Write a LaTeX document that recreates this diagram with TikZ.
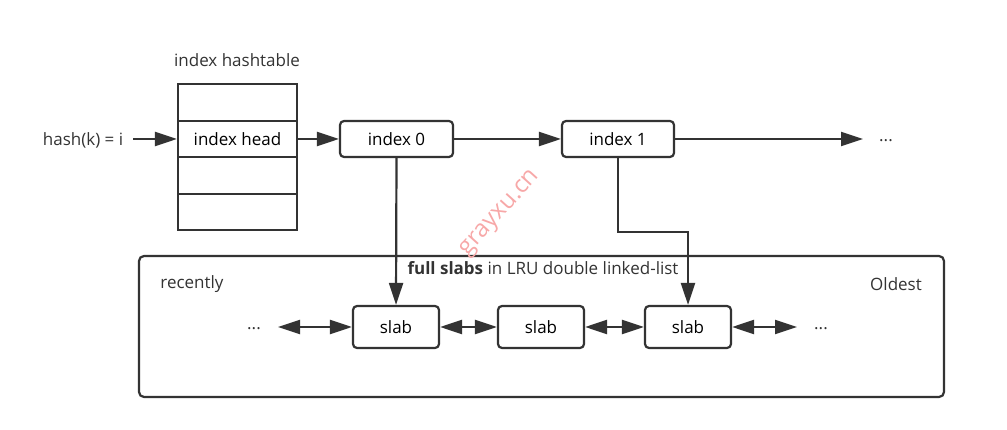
\documentclass[tikz,border=0pt]{standalone}
\usepackage{fontspec}
\setmainfont{Open Sans}
\usetikzlibrary{arrows.meta}
\definecolor{ink}{HTML}{333333}
\definecolor{wm}{HTML}{F7A8A8}
\tikzset{
  line/.style={draw=ink, line width=2.2pt},
  tip/.tip={Triangle[length=22pt,width=14pt]},
  arr/.style={line, -tip},
  darr/.style={line, tip-tip},
  cell/.style={draw=ink, line width=2.2pt, minimum width=119pt, minimum height=36.5pt, inner sep=0pt},
  rbox/.style={draw=ink, line width=2.2pt, rounded corners=4pt, inner sep=0pt},
  lbl/.style={text=ink, inner sep=0pt},
}
\begin{document}
\begin{tikzpicture}[x=1pt,y=-1pt,font=\fontsize{17}{20}\selectfont]
\useasboundingbox (0,0) rectangle (1007,430);
% hashtable
\node[lbl] (title) at (237,60) {index hashtable};
\node[cell] (r0) at (237.5,102.5) {};
\node[cell] (head) at (237.5,139) {index head};
\node[cell] (r2) at (237.5,175.5) {};
\node[cell] (r3) at (237.5,212) {};
\node[lbl] (hash) at (83,140) {hash(k) = i};
% index nodes
\node[rbox, minimum width=113pt, minimum height=36pt] (i0) at (396.5,139) {index 0};
\node[rbox, minimum width=112pt, minimum height=36pt] (i1) at (618,139) {index 1};
\node[lbl] (more) at (886,141) {...};
\coordinate (hashend) at (133,139);
\coordinate (moreend) at (863,139);
\draw[arr] (hashend) -- (head.west);
\draw[arr] (head.east) -- (i0.west);
\draw[arr] (i0.east) -- (i1.west);
\draw[arr] (i1.east) -- (moreend);
% LRU box
\node[rbox, rounded corners=5pt, minimum width=805pt, minimum height=141pt] (lru) at (541.5,326.5) {};
\node[lbl] (lrutitle) at (543,268) {\textbf{full slabs} in LRU double linked-list};
\node[lbl] (recent) at (192,284) {recently};
\node[lbl] (oldest) at (896,284) {Oldest};
\node[rbox, minimum width=86pt, minimum height=42pt] (s1) at (396,327) {slab};
\node[rbox, minimum width=86pt, minimum height=42pt] (s2) at (541,327) {slab};
\node[rbox, minimum width=86pt, minimum height=42pt] (s3) at (688,327) {slab};
\node[lbl] (ldots) at (254,329) {...};
\node[lbl] (rdots) at (821,329) {...};
\coordinate (lend) at (278,327);
\coordinate (rend) at (797,327);
\draw[darr] (lend) -- (s1.west);
\draw[darr] (s1.east) -- (s2.west);
\draw[darr] (s2.east) -- (s3.west);
\draw[darr] (s3.east) -- (rend);
% pointers
\draw[arr] (i0.south) -- (s1.north);
\coordinate (bend) at (618,232);
\draw[arr] (i1.south) -- (bend) -| (s3.north);
% watermark
\node[text=wm, rotate=48, font=\fontsize{24}{26}\selectfont] (wmark) at (501,214) {grayxu.cn};
\end{tikzpicture}
\end{document}
